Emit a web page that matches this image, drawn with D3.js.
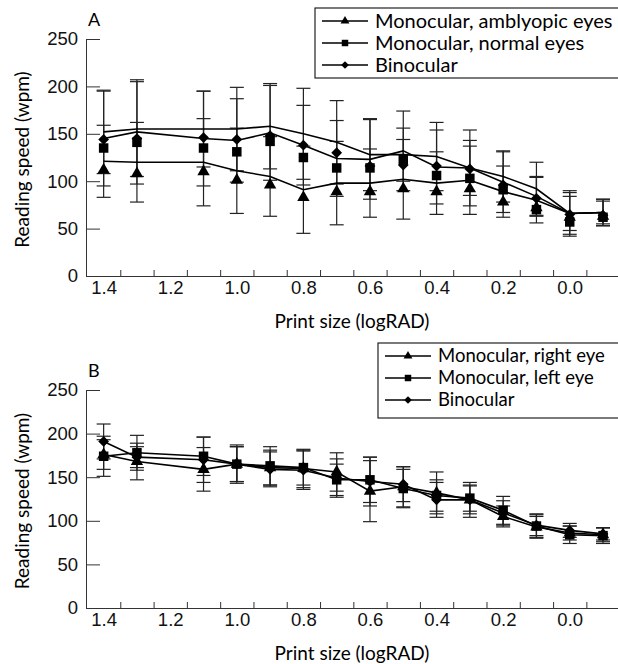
<!DOCTYPE html>
<html>
<head>
<meta charset="utf-8">
<title>Reading speed and print size</title>
<script src="https://cdnjs.cloudflare.com/ajax/libs/d3/7.8.5/d3.min.js"></script>
<style>
  body { margin: 0; background: #fff; }
  svg { display: block; font-family: Lato, "Noto Sans", sans-serif; }
  .axis path, .axis line { stroke: #333; }
</style>
</head>
<body>
<svg width="618" height="664"></svg>
<script>
// shared
var printSize = [1.4, 1.3, 1.1, 1.0, 0.9, 0.8, 0.7, 0.6, 0.5, 0.4, 0.3, 0.2, 0.1, 0.0, -0.1];
var xLabels = [1.4, 1.2, 1.0, 0.8, 0.6, 0.4, 0.2, 0.0];
var xMinor = [1.35, 1.25, 1.15, 1.05, 0.95, 0.85, 0.75, 0.65, 0.55, 0.45, 0.35, 0.25, 0.15, 0.05, -0.05];
var yTicks = [0, 50, 100, 150, 200, 250];

// panel A : line = mean, sd = error bar, mark = symbol
var aAmbLine  = [121, 120, 120, 111, 105, 91, 98, 98, 102, 98, 101, 89, 80, 66, 67];
var aAmbSd    = [38, 42, 46, 45, 42, 46, 44, 36, 42, 33, 36, 27, 24, 24, 14];
var aAmbMark  = [112, 108, 110, 101, 96, 83, 89, 89, 92, 89, 92, 78, 72, 62, 63];
var aNormLine = [152, 155, 155, 155, 158, 150, 141, 128, 128, 126, 114, 105, 92, 66, 67];
var aNormSd   = [44, 50, 40, 44, 45, 48, 44, 38, 28, 36, 29, 27, 28, 22, 12];
var aNormMark = [135, 141, 135, 131, 142, 125, 114, 114, 123, 106, 103, 91, 70, 57, 62];
var aBinoLine = [145, 152, 145, 143, 151, 138, 124, 123, 132, 115, 114, 99, 84, 66, 67];
var aBinoSd   = [50, 55, 50, 44, 50, 42, 40, 42, 42, 39, 40, 32, 21, 18, 14];
var aBinoMark = [144, 145, 146, 144, 148, 138, 130, 116, 117, 116, 113, 96, 82, 65, 64];

// panel B
var bRight   = [176, 168, 159, 165, 161, 160, 156, 134, 139, 132, 124, 105, 93, 86, 84];
var bRightSd = [17, 21, 25, 20, 20, 22, 22, 35, 23, 24, 20, 12, 12, 8, 8];
var bLeft    = [174, 178, 174, 165, 163, 161, 147, 147, 137, 129, 126, 112, 94, 84, 83];
var bLeftSd  = [23, 20, 22, 20, 22, 20, 18, 26, 22, 18, 15, 16, 14, 10, 9];
var bBino    = [191, 173, 170, 165, 159, 158, 149, 145, 142, 124, 124, 109, 95, 89, 85];
var bBinoSd  = [20, 12, 26, 22, 20, 22, 22, 28, 20, 20, 16, 14, 12, 8, 7];

var panels = [
  { letter: "A", top: 39, bottom: 276,
    legend: { x: 315, y: 8, h: 70, font: 20 },
    series: [
      { name: "Monocular, amblyopic eyes", sym: "tri",  line: aAmbLine,  sd: aAmbSd,  mark: aAmbMark },
      { name: "Monocular, normal eyes",    sym: "sq",   line: aNormLine, sd: aNormSd, mark: aNormMark },
      { name: "Binocular",                 sym: "dia",  line: aBinoLine, sd: aBinoSd, mark: aBinoMark }
    ] },
  { letter: "B", top: 390, bottom: 608,
    legend: { x: 378, y: 343, h: 75, font: 18.5 },
    series: [
      { name: "Monocular, right eye", sym: "tri", line: bRight, sd: bRightSd, mark: bRight },
      { name: "Monocular, left eye",  sym: "sq",  line: bLeft,  sd: bLeftSd,  mark: bLeft },
      { name: "Binocular",            sym: "dia", line: bBino,  sd: bBinoSd,  mark: bBino }
    ] }
];

var svg = d3.select("svg");
var x = d3.scaleLinear().domain([1.453, -0.145]).range([86, 618]);

function symPath(sym, big) {
  if (sym == "tri") return d3.symbol(d3.symbolTriangle, big ? 66 : 34)();
  if (sym == "sq") return d3.symbol(d3.symbolSquare, big ? 90 : 42)();
  return d3.symbol(d3.symbolSquare, big ? 58 : 30)();
}

panels.forEach(function(p) {
  var y = d3.scaleLinear().domain([0, 250]).range([p.bottom, p.top]);
  var g = svg.append("g");

  // axes
  g.append("g").attr("class", "axis")
    .attr("transform", "translate(86,0)")
    .call(d3.axisLeft(y).tickValues(yTicks).tickSizeInner(-14).tickSizeOuter(0).tickPadding(8))
    .call(function(s) { s.selectAll("text").style("font-size", "18.5px").attr("fill", "#111"); });

  g.append("g").attr("class", "axis")
    .attr("transform", "translate(0," + p.bottom + ")")
    .call(d3.axisBottom(x).tickValues(xMinor).tickSizeInner(-6).tickSizeOuter(0).tickFormat(""));

  g.append("g")
    .attr("transform", "translate(0," + p.bottom + ")")
    .call(d3.axisBottom(x).tickValues(xLabels).tickSize(0).tickPadding(5).tickFormat(d3.format(".1f")))
    .call(function(s) {
      s.select(".domain").remove();
      s.selectAll("text").style("font-size", "18.5px").attr("fill", "#111");
    });

  g.append("text").text(p.letter)
    .attr("x", 88).attr("y", p.top - 13)
    .style("font-size", "18px");

  g.append("text").text("Reading speed (wpm)")
    .attr("transform", "translate(29," + ((p.top + p.bottom) / 2 + 2) + ") rotate(-90)")
    .attr("text-anchor", "middle")
    .style("font-size", "19px");

  g.append("text").text("Print size (logRAD)")
    .attr("x", 352).attr("y", p.bottom + 52)
    .attr("text-anchor", "middle")
    .style("font-size", "19px");

  // error bars
  p.series.forEach(function(s) {
    var eb = g.append("g").attr("stroke", "#222").attr("stroke-width", 1.2);
    printSize.forEach(function(v, i) {
      var hi = y(s.line[i] + s.sd[i]), lo = y(s.line[i] - s.sd[i]), cx = x(v);
      eb.append("line").attr("x1", cx).attr("x2", cx).attr("y1", hi).attr("y2", lo);
      eb.append("line").attr("x1", cx - 7).attr("x2", cx + 7).attr("y1", hi).attr("y2", hi);
      eb.append("line").attr("x1", cx - 7).attr("x2", cx + 7).attr("y1", lo).attr("y2", lo);
    });
  });

  // lines
  var line = d3.line().x(function(d) { return x(d[0]); }).y(function(d) { return y(d[1]); });
  p.series.forEach(function(s) {
    g.append("path")
      .datum(printSize.map(function(v, i) { return [v, s.line[i]]; }))
      .attr("d", line).attr("fill", "none").attr("stroke", "#000").attr("stroke-width", 1.6);
  });

  // markers
  p.series.forEach(function(s) {
    g.selectAll(null).data(printSize).enter().append("path")
      .attr("d", symPath(s.sym, true))
      .attr("transform", function(v, i) {
        return "translate(" + x(v) + "," + y(s.mark[i]) + ")" + (s.sym == "dia" ? " rotate(45)" : "");
      })
      .attr("fill", "#000");
  });

  // legend
  var L = p.legend;
  g.append("rect").attr("x", L.x).attr("y", L.y).attr("width", 618 - L.x + 5).attr("height", L.h)
    .attr("fill", "#fff").attr("stroke", "#222").attr("stroke-width", 1.2);
  p.series.forEach(function(s, i) {
    var ry = L.y + 13 + i * 22;
    g.append("line").attr("x1", L.x + 7).attr("x2", L.x + 53).attr("y1", ry).attr("y2", ry)
      .attr("stroke", "#000").attr("stroke-width", 1.6);
    g.append("path").attr("d", symPath(s.sym, false))
      .attr("transform", "translate(" + (L.x + 30) + "," + ry + ")" + (s.sym == "dia" ? " rotate(45)" : ""));
    g.append("text").text(s.name).attr("x", L.x + 60).attr("y", ry).attr("dy", "0.35em")
      .style("font-size", L.font + "px");
  });
});
</script>
</body>
</html>
